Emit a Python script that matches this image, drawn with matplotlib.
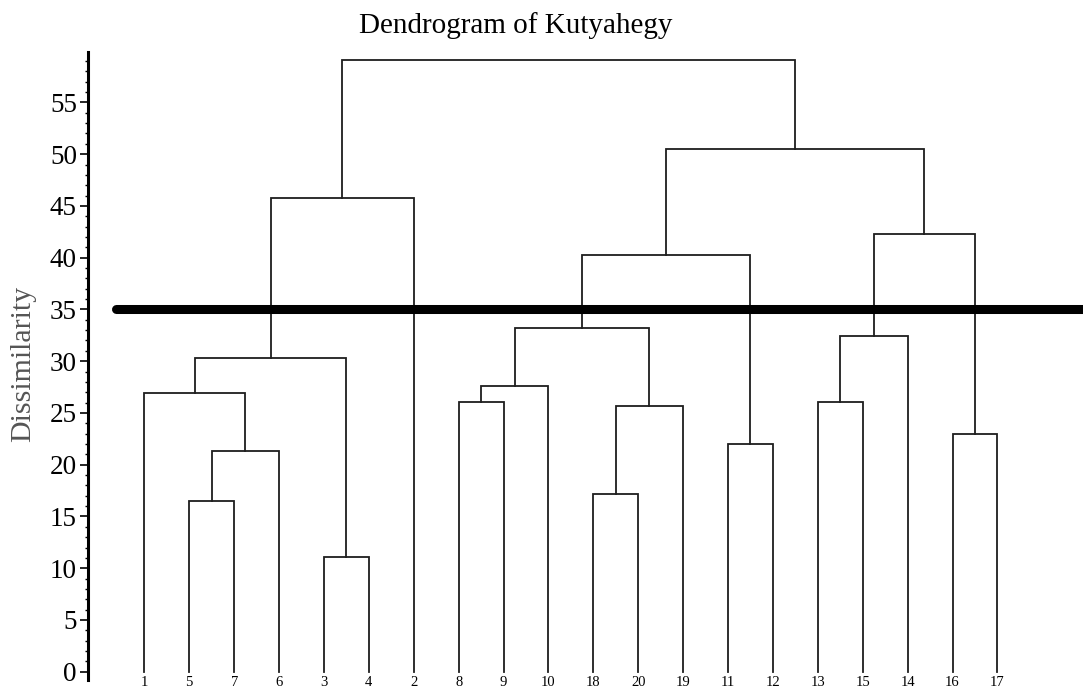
import numpy as np
import matplotlib
matplotlib.use("Agg")
import matplotlib.pyplot as plt
from matplotlib.ticker import MultipleLocator

plt.rcParams['font.family'] = ['Liberation Serif', 'DejaVu Serif']

# leaf order along the x axis
leaf_labels = ['1', '5', '7', '6', '3', '4', '2', '8', '9', '10',
               '18', '20', '19', '11', '12', '13', '15', '14', '16', '17']

# merges: nodes 0-19 are leaves, node 20+k is merge k
merge_left = [1, 20, 0, 4, 22, 24, 7, 26, 10, 28, 27, 13, 30, 15, 33, 18, 34, 32, 25]
merge_right = [2, 3, 21, 5, 23, 6, 8, 9, 11, 12, 29, 14, 31, 16, 17, 19, 35, 36, 37]
merge_height = [16.5, 21.3, 26.9, 11.1, 30.3, 45.8, 26.1, 27.6, 17.2, 25.7,
                33.2, 22.0, 40.3, 26.1, 32.4, 23.0, 42.3, 50.5, 59.1]
cut_height = 35

fig = plt.figure(figsize=(10.83, 6.91), dpi=100)
ax = fig.add_axes([0.0813, 0.0159, 0.9187, 0.9093])

n = len(leaf_labels)
node_x = list(np.arange(n, dtype=float))
node_y = [0.0] * n

for l, r, h in zip(merge_left, merge_right, merge_height):
    xl, yl = node_x[l], node_y[l]
    xr, yr = node_x[r], node_y[r]
    ax.plot([xl, xl, xr, xr], [yl, h, h, yr], color='#1e1e1e', lw=1.3,
            solid_joinstyle='miter')
    node_x.append((xl + xr) / 2)
    node_y.append(h)

# cut line
ax.plot([-0.63, 20.906], [cut_height, cut_height], color='black', lw=6.5,
        solid_capstyle='round', clip_on=False, zorder=5)

for i, lab in enumerate(leaf_labels):
    ax.text(i, -1.0, lab, ha='center', va='center', fontsize=10.5, clip_on=False)

ax.set_xlim(-1.254, 20.906)
ax.set_ylim(-0.8, 59.9)
ax.set_xticks([])
ax.yaxis.set_major_locator(MultipleLocator(5))
ax.yaxis.set_minor_locator(MultipleLocator(1))
ax.set_yticks(np.arange(0, 56, 5))
ax.tick_params(axis='y', which='major', length=6, width=1.2, labelsize=19.5, pad=2)
ax.tick_params(axis='y', which='minor', length=2.5, width=1.0)
for s in ['top', 'right', 'bottom']:
    ax.spines[s].set_visible(False)
ax.spines['left'].set_linewidth(2.2)

fig.text(0.4765, 0.952, 'Dendrogram of Kutyahegy', ha='center', va='baseline',
         fontsize=21)
fig.text(0.021, 0.473, 'Dissimilarity', rotation=90, ha='center', va='center',
         fontsize=21.5, color='#555555')

fig.savefig('out.png', dpi=100)
